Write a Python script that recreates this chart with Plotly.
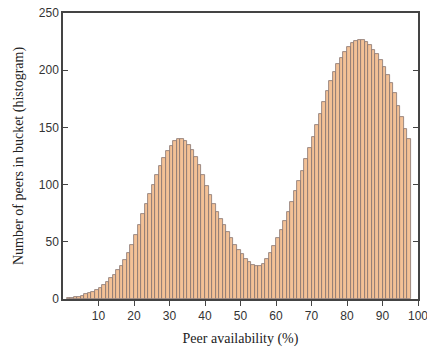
import plotly.graph_objects as go

bins = list(range(1, 98))
counts = [
    0.5, 1, 1.5, 2, 3, 4, 5, 6.5, 8, 10,
    12.5, 15, 18, 21, 25, 29, 34, 40, 47, 56,
    65, 74, 83, 92, 100, 108, 116, 123, 129, 134,
    138, 140, 140, 138, 135, 130, 124, 117, 108, 99,
    91, 83, 76, 70, 65, 59, 53, 47, 43, 39,
    35, 32, 30, 29, 29, 31, 35, 40, 46, 53,
    60, 68, 76, 85, 94, 103, 112, 122, 132, 142,
    152, 162, 172, 182, 191, 198, 205, 211, 216, 220,
    223.5, 225.5, 226, 226, 224.5, 222, 218, 214, 209, 203,
    196, 189, 180, 169, 159, 149, 139.5,
]
xticks = [10, 20, 30, 40, 50, 60, 70, 80, 90, 100]
yticks = [0, 50, 100, 150, 200, 250]

centers = [b + 0.5 for b in bins]

fig = go.Figure(go.Bar(
    x=centers, y=counts, width=1,
    marker=dict(color="#F3C196", line=dict(color="#857470", width=0.8)),
    showlegend=False,
))

fig.update_layout(
    width=427, height=347,
    margin=dict(l=63, r=9, t=13, b=48),
    plot_bgcolor="white", paper_bgcolor="white",
    bargap=0,
)
fig.update_xaxes(
    range=[0, 100], tickvals=xticks, ticks="outside", ticklen=5,
    showline=True, linecolor="#444", linewidth=1.5, mirror=True,
    showgrid=False, zeroline=False, automargin=False,
    ticklabeloverflow="allow",
    tickfont=dict(family="Liberation Sans", size=12, color="#333"),
    title=dict(text="Peer availability (%)", standoff=12,
               font=dict(family="Liberation Serif", size=14, color="#222")),
)
fig.update_yaxes(
    range=[0, 250], tickvals=yticks, ticks="inside", ticklen=5,
    showline=True, linecolor="#444", linewidth=1.5, mirror="ticks",
    showgrid=False, zeroline=False, automargin=False,
    tickfont=dict(family="Liberation Sans", size=12, color="#333"),
    title=dict(text="Number of peers in bucket (histogram)", standoff=12,
               font=dict(family="Liberation Serif", size=14, color="#222")),
)

fig.write_html("out.html")
